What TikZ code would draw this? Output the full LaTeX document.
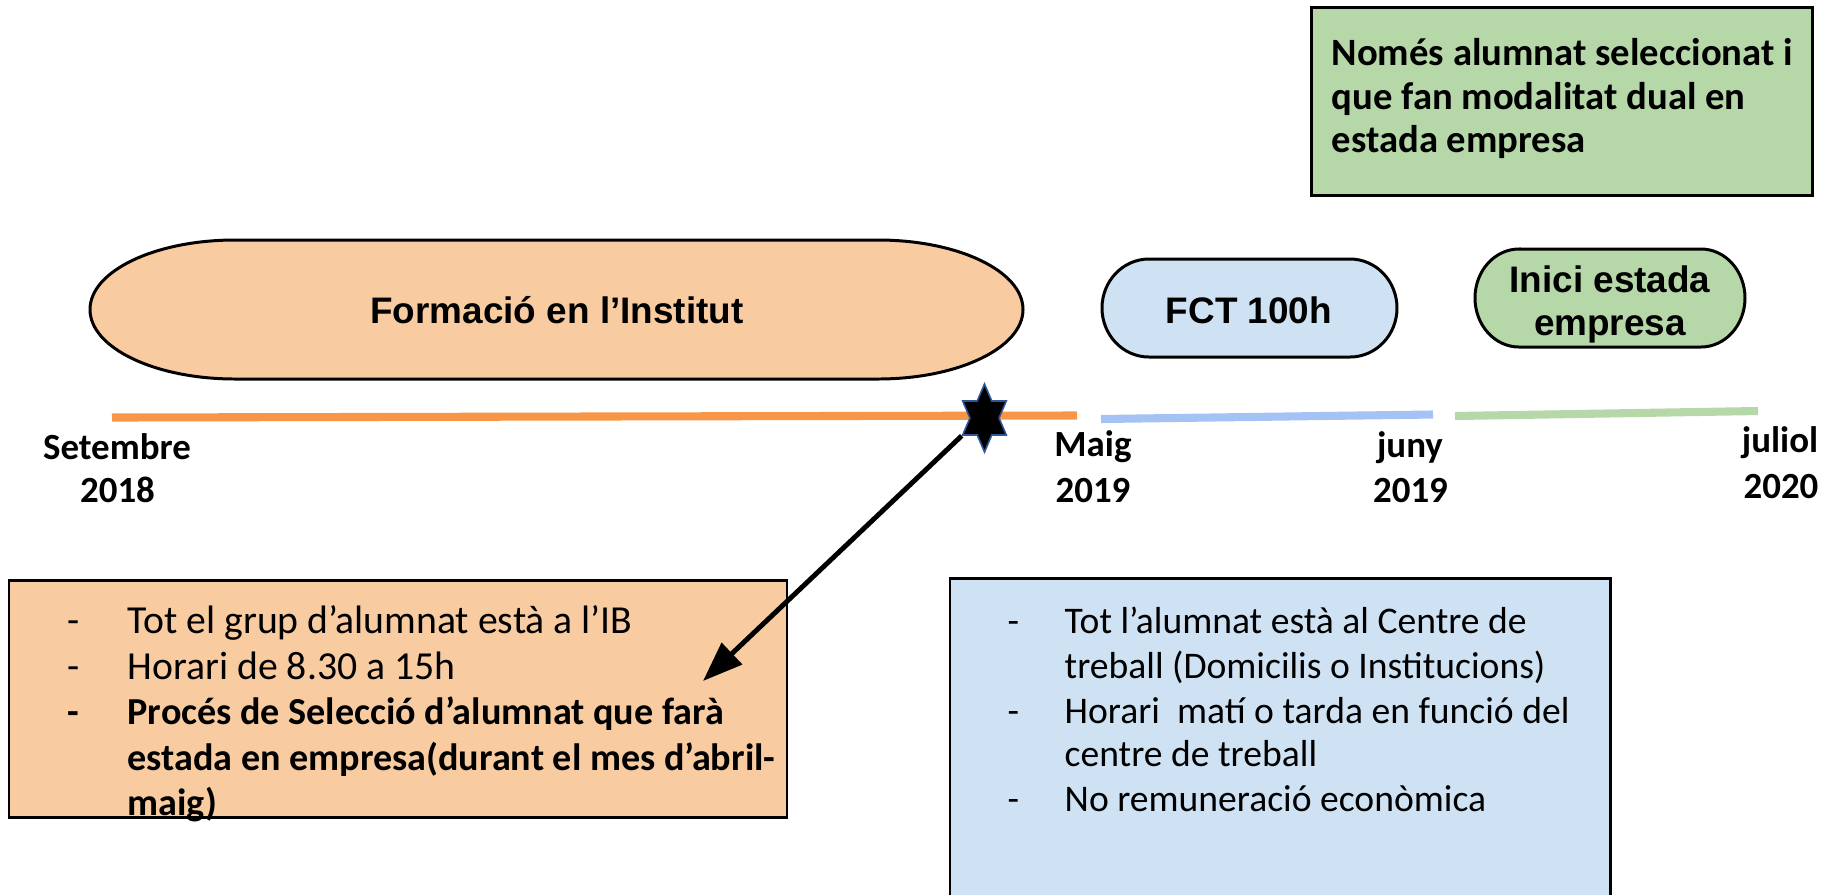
\documentclass[tikz,border=0pt]{standalone}
\usepackage{fontspec}
\setmainfont{Carlito}
\newfontfamily\arialfont{Liberation Sans}
\usepackage{tikz}
\usetikzlibrary{shapes.geometric,arrows.meta}
\definecolor{peach}{HTML}{F8CBA0}
\definecolor{orangeline}{HTML}{F79646}
\definecolor{paleblue}{HTML}{CFE2F3}
\definecolor{blueline}{HTML}{A4C2F4}
\definecolor{palegreen}{HTML}{B6D7A8}
\definecolor{starblue}{HTML}{2F5597}

\begin{document}
\begin{tikzpicture}[
  frame/.style={draw=black,line width=0.85pt},
  period/.style={line width=2.3pt},
  txt/.style={inner sep=0,anchor=base west,font=\fontsize{10.7}{12.6}\selectfont},
  txtb/.style={txt,font=\fontsize{11}{12.6}\selectfont\bfseries},
  ibtxt/.style={txt,font=\fontsize{11.3}{12.6}\selectfont},
  ibtxtb/.style={txt,font=\fontsize{10.85}{12.6}\selectfont\bfseries},
  datelbl/.style={inner sep=0,anchor=base,font=\fontsize{10.5}{12.6}\selectfont\bfseries},
  shapelbl/.style={inner sep=0,anchor=base,font=\arialfont\bfseries\fontsize{10.5}{12.6}\selectfont},
  starmark/.style={star,star points=6,star point ratio=1.732,inner sep=0,minimum size=0.68cm,
    fill=black,draw=starblue,line width=0.45pt},
  pointer/.style={-{Triangle[length=0.40cm,width=0.29cm]},line width=1.4pt,draw=black}]
\useasboundingbox (0,0) rectangle (18.26,-8.94);
% top note
\draw[frame,fill=palegreen] (13.11,-0.07) rectangle (18.12,-1.95);
\node[txtb] (dual1) at (13.31,-0.656) {Només alumnat seleccionat i};
\node[txtb] (dual2) at (13.31,-1.095) {que fan modalitat dual en};
\node[txtb] (dual3) at (13.31,-1.527) {estada empresa};
% periods
\draw[frame,fill=peach] (2.35,-2.40) -- (8.78,-2.40) arc[start angle=90,end angle=-90,x radius=1.45,y radius=0.695]
  -- (2.35,-3.79) arc[start angle=270,end angle=90,x radius=1.45,y radius=0.695] -- cycle;
\node[shapelbl] (formacio) at (5.57,-3.23) {Formació en l’Institut};
\draw[frame,fill=paleblue] (11.49,-2.59) -- (13.50,-2.59) arc[start angle=90,end angle=-90,x radius=0.47,y radius=0.49]
  -- (11.49,-3.57) arc[start angle=270,end angle=90,x radius=0.47,y radius=0.49] -- cycle;
\node[shapelbl] (fct) at (12.49,-3.23) {FCT 100h};
\draw[frame,fill=palegreen] (15.19,-2.49) -- (17.01,-2.49) arc[start angle=90,end angle=-90,x radius=0.44,y radius=0.49]
  -- (15.19,-3.47) arc[start angle=270,end angle=90,x radius=0.44,y radius=0.49] -- cycle;
\node[shapelbl] (inici1) at (16.10,-2.92) {Inici estada};
\node[shapelbl] (inici2) at (16.10,-3.35) {empresa};
% timeline
\coordinate (setstart) at (1.12,-4.175);
\coordinate (setend) at (10.77,-4.155);
\coordinate (maigstart) at (11.01,-4.19);
\coordinate (maigend) at (14.33,-4.145);
\coordinate (junystart) at (14.55,-4.16);
\coordinate (junyend) at (17.58,-4.11);
\draw[period,draw=orangeline] (setstart) -- (setend);
\draw[period,draw=blueline] (maigstart) -- (maigend);
\draw[period,draw=palegreen] (junystart) -- (junyend);
\begin{scope}[shift={(9.845,-4.18)},xscale=0.74]
\node[starmark,transform shape] (star) at (0,0) {};
\end{scope}
\node[datelbl] (setembre) at (1.17,-4.59) {Setembre};
\node[datelbl] (any2018) at (1.175,-5.02) {2018};
\node[datelbl] (maig) at (10.93,-4.56) {Maig};
\node[datelbl] (any2019a) at (10.93,-5.02) {2019};
\node[datelbl] (juny) at (14.10,-4.57) {juny};
\node[datelbl] (any2019b) at (14.105,-5.02) {2019};
\node[datelbl] (juliol) at (17.80,-4.52) {juliol};
\node[datelbl] (any2020) at (17.81,-4.98) {2020};
% institut box
\draw[frame,fill=peach] (0.09,-5.80) rectangle (7.87,-8.17);
\foreach \y [count=\i] in {6.335,6.792} \node[ibtxt] (ibdash\i) at (0.67,-\y) {-};
\node[ibtxtb] (ibdash3) at (0.67,-7.249) {-};
\node[ibtxt] (ib1) at (1.27,-6.335) {Tot el grup d’alumnat està a l’IB};
\node[ibtxt] (ib2) at (1.27,-6.792) {Horari de 8.30 a 15h};
\node[ibtxtb] (ib3) at (1.27,-7.249) {Procés de Selecció d’alumnat que farà};
\node[ibtxtb] (ib4) at (1.27,-7.706) {estada en empresa(durant el mes d’abril-};
\node[ibtxtb] (ib5) at (1.27,-8.150) {maig)};
% centre box
\draw[frame,fill=paleblue] (9.50,-5.78) rectangle (16.10,-9.10);
\foreach \y [count=\i] in {6.33,7.235,8.117} \node[txt] (ctdash\i) at (10.07,-\y) {-};
\node[txt] (ct1) at (10.64,-6.33) {Tot l’alumnat està al Centre de};
\node[txt] (ct2) at (10.64,-6.78) {treball (Domicilis o Institucions)};
\node[txt] (ct3) at (10.64,-7.235) {Horari\ \ matí o tarda en funció del};
\node[txt] (ct4) at (10.64,-7.665) {centre de treball};
\node[txt] (ct5) at (10.64,-8.117) {No remuneració econòmica};
% selection arrow
\coordinate (arrowtip) at (7.03,-6.81);
\draw[pointer] (star.outer point 3) -- (arrowtip);
\end{tikzpicture}
\end{document}
